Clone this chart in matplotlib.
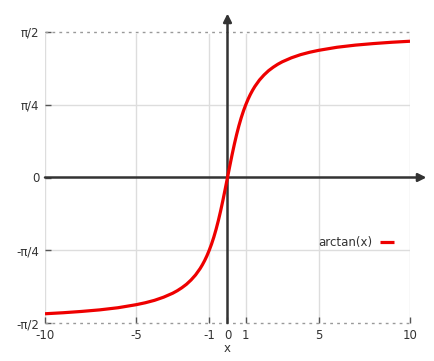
import numpy as np
import matplotlib
matplotlib.use('Agg')
import matplotlib.pyplot as plt

# points (x, arctan(x) in radians)
xs = [-10, -9, -8, -7, -6, -5, -4.5, -4, -3.5, -3, -2.75, -2.5, -2.25, -2, -1.75, -1.5,
      -1.375, -1.25, -1.125, -1, -0.875, -0.75, -0.625, -0.5, -0.375, -0.25, -0.125,
      0, 0.125, 0.25, 0.375, 0.5, 0.625, 0.75, 0.875, 1, 1.125, 1.25, 1.375, 1.5,
      1.75, 2, 2.25, 2.5, 2.75, 3, 3.5, 4, 4.5, 5, 6, 7, 8, 9, 10]
ys = [-1.471, -1.460, -1.446, -1.429, -1.406, -1.373, -1.352, -1.326, -1.292, -1.249,
      -1.222, -1.190, -1.153, -1.107, -1.052, -0.983, -0.942, -0.896, -0.844, -0.785,
      -0.719, -0.644, -0.559, -0.464, -0.359, -0.245, -0.124,
      0.0, 0.124, 0.245, 0.359, 0.464, 0.559, 0.644, 0.719, 0.785, 0.844, 0.896,
      0.942, 0.983, 1.052, 1.107, 1.153, 1.190, 1.222, 1.249, 1.292, 1.326, 1.352,
      1.373, 1.406, 1.429, 1.446, 1.460, 1.471]

xticks = [-10, -5, -1, 0, 1, 5, 10]
xticklabels = ['-10', '-5', '-1', '0', '1', '5', '10']
yticks = [-np.pi / 2, -np.pi / 4, 0, np.pi / 4, np.pi / 2]
yticklabels = ['-π/2', '-π/4', '0', 'π/4', 'π/2']

dark = '#333333'
grid = '#dddddd'

fig = plt.figure(figsize=(4.35, 3.61), dpi=100)
ax = fig.add_axes([45 / 435, 1 - 323 / 361, 365 / 435, 291 / 361])

ax.set_xlim(-10, 10)
ax.set_ylim(-np.pi / 2, np.pi / 2)

# grid lines (no line at x=0, the axis covers it)
for gx in [-10, -5, -1, 1, 5, 10]:
    ax.axvline(gx, color=grid, lw=1, zorder=1)
for gy in [-np.pi / 4, np.pi / 4]:
    ax.axhline(gy, color=grid, lw=1, zorder=1)
for gy in [-np.pi / 2, np.pi / 2]:
    ax.axhline(gy, color='white', lw=2, zorder=1.5, clip_on=False)
    ax.axhline(gy, color='#999999', lw=1, ls=(0, (2, 3)), zorder=2, clip_on=False)

for s in ax.spines.values():
    s.set_visible(False)

# axes with arrows
ax.annotate('', xy=(10.9, 0), xytext=(-10, 0), annotation_clip=False,
            arrowprops=dict(arrowstyle='-|>', color=dark, lw=1.8,
                            mutation_scale=12, shrinkA=0, shrinkB=0), zorder=3)
ax.annotate('', xy=(0, 1.77), xytext=(0, -np.pi / 2), annotation_clip=False,
            arrowprops=dict(arrowstyle='-|>', color=dark, lw=1.8,
                            mutation_scale=12, shrinkA=0, shrinkB=0), zorder=3)

ax.plot(xs, ys, color='#ee0000', lw=2.3, label='arctan(x)', zorder=4,
        solid_capstyle='butt', solid_joinstyle='round')

ax.set_xticks(xticks)
ax.set_xticklabels(xticklabels)
ax.set_yticks(yticks)
ax.set_yticklabels(yticklabels)
ax.tick_params(direction='in', length=4, width=1, color='#555555',
               labelcolor=dark, labelsize=8.5, pad=4)
ax.set_xlabel('x', color=dark, fontsize=8.5, labelpad=0)

leg = ax.legend(loc='center right', bbox_to_anchor=(0.985, 0.275), frameon=False,
                markerfirst=False, handlelength=1.2, fontsize=8.5,
                handletextpad=0.6)
for t in leg.get_texts():
    t.set_color(dark)

fig.savefig('out.png', dpi=100)
